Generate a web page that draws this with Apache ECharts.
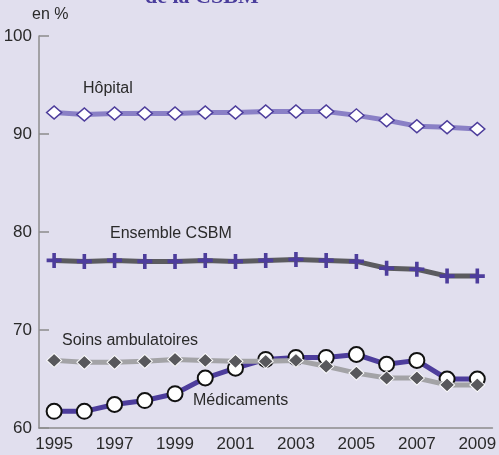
<!DOCTYPE html>
<html>
<head>
<meta charset="utf-8">
<script src="https://cdn.jsdelivr.net/npm/echarts@6/dist/echarts.min.js"></script>
<style>
  html, body { margin: 0; padding: 0; background: #e1dfee; }
  #chart { width: 499px; height: 455px; }
</style>
</head>
<body>
<div id="chart"></div>
<script>
var years = ['1995', '1996', '1997', '1998', '1999', '2000', '2001', '2002', '2003', '2004', '2005', '2006', '2007', '2008', '2009'];
var hopital = [92.2, 92.0, 92.1, 92.1, 92.1, 92.2, 92.2, 92.3, 92.3, 92.3, 91.9, 91.4, 90.8, 90.7, 90.5];
var ensemble = [77.1, 77.0, 77.1, 77.0, 77.0, 77.1, 77.0, 77.1, 77.2, 77.1, 77.0, 76.3, 76.2, 75.5, 75.5];
var soinsAmbu = [66.9, 66.7, 66.7, 66.8, 67.0, 66.9, 66.8, 66.8, 66.9, 66.3, 65.6, 65.1, 65.1, 64.4, 64.4];
var medicaments = [61.7, 61.7, 62.4, 62.8, 63.5, 65.1, 66.1, 67.0, 67.2, 67.2, 67.5, 66.5, 66.9, 65.0, 65.0];
var yTicks = [60, 70, 80, 90, 100];

var font = '"Liberation Sans Narrow", "Liberation Sans", Arial, sans-serif';
var crossPath = 'path://M3.8,0 L6.2,0 L6.2,3.8 L10,3.8 L10,6.2 L6.2,6.2 L6.2,10 L3.8,10 L3.8,6.2 L0,6.2 L0,3.8 L3.8,3.8 Z';

var myChart = echarts.init(document.getElementById('chart'));
var option = {
    backgroundColor: '#e1dfee',
    animation: false,
    grid: { left: 39, right: 0, top: 36, bottom: 27, containLabel: false },
    xAxis: {
        type: 'category',
        data: years,
        boundaryGap: true,
        axisLine: { lineStyle: { color: '#8c8c8c', width: 1.5 } },
        axisTick: { inside: true, length: 10, interval: 0, lineStyle: { color: '#8c8c8c', width: 1.5 } },
        axisLabel: { interval: 1, margin: 8, color: '#2a2a2a', fontSize: 17, fontFamily: font }
    },
    yAxis: {
        type: 'value',
        min: yTicks[0],
        max: yTicks[yTicks.length - 1],
        interval: 10,
        splitLine: { show: false },
        axisLine: { show: true, lineStyle: { color: '#8c8c8c', width: 1.5 } },
        axisTick: { show: true, inside: true, length: 10, lineStyle: { color: '#8c8c8c', width: 1.5 } },
        axisLabel: { margin: 7, padding: [8, 0, 0, 0], color: '#2a2a2a', fontSize: 17, fontFamily: font }
    },
    series: [
        {
            name: 'Hôpital', type: 'line', data: hopital, z: 2,
            lineStyle: { color: '#8a80c6', width: 5 },
            symbol: 'diamond', symbolSize: [15, 13], showAllSymbol: true,
            itemStyle: { color: '#ffffff', borderColor: '#4d3d9c', borderWidth: 1.5 }
        },
        {
            name: 'Ensemble CSBM', type: 'line', data: ensemble, z: 2,
            lineStyle: { color: '#5b5b5f', width: 5 },
            symbol: crossPath, symbolSize: 15, showAllSymbol: true,
            itemStyle: { color: '#4d3d9c', borderWidth: 0 }
        },
        {
            name: 'Médicaments', type: 'line', data: medicaments, z: 2,
            lineStyle: { color: '#4d3d9c', width: 5 },
            symbol: 'circle', symbolSize: 15, showAllSymbol: true,
            itemStyle: { color: '#ffffff', borderColor: '#111111', borderWidth: 2 }
        },
        {
            name: 'Soins ambulatoires', type: 'line', data: soinsAmbu, z: 3,
            lineStyle: { color: '#a3a3a6', width: 5 },
            symbol: 'diamond', symbolSize: [15, 14], showAllSymbol: true,
            itemStyle: { color: '#58585c', borderColor: '#ffffff', borderWidth: 1 }
        }
    ],
    graphic: [
        { type: 'text', left: 145, top: -14, style: { text: 'de la CSBM', fill: '#4a3d9c', font: 'bold 22px "Liberation Serif", serif' } },
        { type: 'text', left: 32, top: 7, style: { text: 'en %', fill: '#2a2a2a', font: '16px ' + font } },
        { type: 'text', left: 83, top: 81, style: { text: 'Hôpital', fill: '#2a2a2a', font: '16px ' + font } },
        { type: 'text', left: 110, top: 226, style: { text: 'Ensemble CSBM', fill: '#2a2a2a', font: '16px ' + font } },
        { type: 'text', left: 62, top: 333, style: { text: 'Soins ambulatoires', fill: '#2a2a2a', font: '16px ' + font } },
        { type: 'text', left: 193, top: 393, style: { text: 'Médicaments', fill: '#2a2a2a', font: '16px ' + font } }
    ]
};
myChart.setOption(option);
</script>
</body>
</html>
